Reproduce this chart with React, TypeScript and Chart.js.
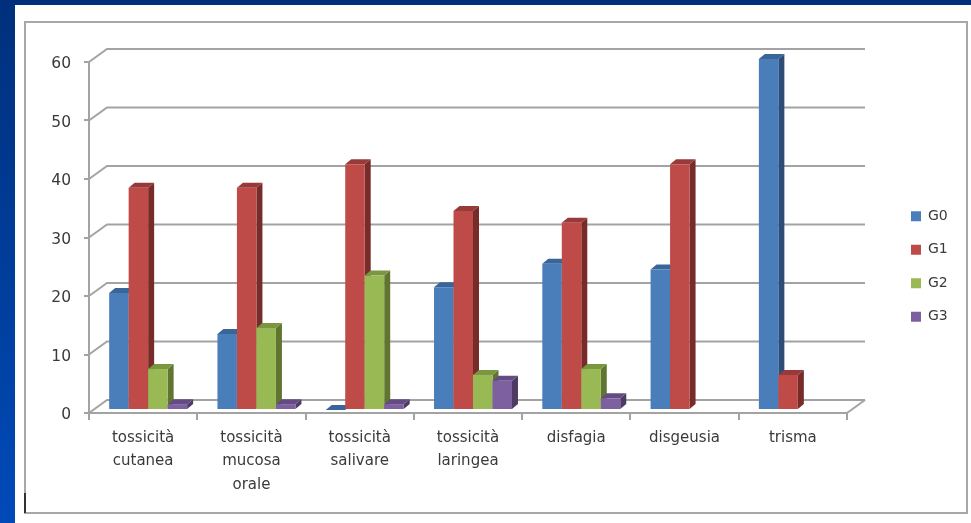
import React, { useEffect, useRef } from "react";
import { Chart, registerables } from "chart.js";

Chart.register(...registerables);

const categories = [
  ["tossicità", "cutanea"],
  ["tossicità", "mucosa", "orale"],
  ["tossicità", "salivare"],
  ["tossicità", "laringea"],
  "disfagia",
  "disgeusia",
  "trisma",
];
const g0 = [20, 13, 0, 21, 25, 24, 60];
const g1 = [38, 38, 42, 34, 32, 42, 6];
const g2 = [7, 14, 23, 6, 7, null, null];
const g3 = [1, 1, 1, 5, 2, null, null];
const yTicks = { min: 0, max: 60, stepSize: 10 };

const faces = [
  { front: "#4a7ebb", side: "#2c4d75", top: "#3a6599" },
  { front: "#be4b48", side: "#772c2a", top: "#98393a" },
  { front: "#98b954", side: "#5f7530", top: "#7a9640" },
  { front: "#7d60a0", side: "#4d3b62", top: "#644c82" },
];

const AXIS = "#a3a3a3";
const TEXT = "#3a3a3a";
const FONT = "DejaVu Sans";
const WALL_DX = 18;
const WALL_DY = -13;
const BAR_DX = 6;
const BAR_DY = -5;
const BAR_SHIFT_X = 5;
const BAR_SHIFT_Y = -3;

const poly = (ctx: CanvasRenderingContext2D, pts: number[][], fill: string) => {
  ctx.fillStyle = fill;
  ctx.beginPath();
  pts.forEach(([x, y], i) => (i ? ctx.lineTo(x, y) : ctx.moveTo(x, y)));
  ctx.closePath();
  ctx.fill();
};

// Slide frame, blue theme edges, the perspective back wall and the 3D columns.
const stage = {
  id: "stage",
  beforeDraw(chart: any) {
    const { ctx, width, height } = chart;
    ctx.save();
    ctx.fillStyle = "#ffffff";
    ctx.fillRect(0, 0, width, height);
    const edge = ctx.createLinearGradient(0, 0, 0, height);
    edge.addColorStop(0, "#00307c");
    edge.addColorStop(1, "#004ab8");
    ctx.fillStyle = edge;
    ctx.fillRect(0, 0, 15, height);
    ctx.fillStyle = "#00307c";
    ctx.fillRect(0, 0, width, 5);
    ctx.strokeStyle = "#a8a8a8";
    ctx.lineWidth = 2;
    ctx.strokeRect(25, 22, 942, 491);
    ctx.strokeStyle = "#333333";
    ctx.beginPath();
    ctx.moveTo(25, 493);
    ctx.lineTo(25, 513);
    ctx.stroke();
    ctx.restore();
  },
  beforeDatasetsDraw(chart: any) {
    const { ctx, chartArea, scales } = chart;
    ctx.save();
    ctx.strokeStyle = AXIS;
    ctx.lineWidth = 2;
    scales.y.ticks.forEach((t: any) => {
      const y = scales.y.getPixelForValue(t.value);
      ctx.beginPath();
      ctx.moveTo(chartArea.left, y);
      ctx.lineTo(chartArea.left + WALL_DX, y + WALL_DY);
      ctx.lineTo(chartArea.right + WALL_DX, y + WALL_DY);
      ctx.stroke();
    });
    const y0 = scales.y.getPixelForValue(0);
    ctx.beginPath();
    ctx.moveTo(chartArea.right, y0);
    ctx.lineTo(chartArea.right + WALL_DX, y0 + WALL_DY);
    ctx.stroke();
    ctx.restore();

    // Left to right, so that each column's front covers its neighbour's side.
    ctx.save();
    ctx.translate(BAR_SHIFT_X, BAR_SHIFT_Y);
    chart.data.datasets.forEach((ds: any, index: number) => {
      const meta = chart.getDatasetMeta(index);
      const face = faces[index];
      meta.data.forEach((bar: any, i: number) => {
        if (ds.data[i] == null) return;
        const { x, y, base, width } = bar.getProps(["x", "y", "base", "width"], true);
        const l = x - width / 2;
        const r = x + width / 2;
        poly(ctx, [[r, y], [r + BAR_DX, y + BAR_DY], [r + BAR_DX, base + BAR_DY], [r, base]], face.side);
        poly(ctx, [[l, y], [l + BAR_DX, y + BAR_DY], [r + BAR_DX, y + BAR_DY], [r, y]], face.top);
      });
      meta.controller.draw();
    });
    ctx.restore();
  },
  // The columns are already painted in their own order above.
  beforeDatasetDraw() {
    return false;
  },
  afterLayout(chart: any) {
    // Keep the legend in its own column, clear of the plot.
    const legend = chart.legend;
    const dx = 891.5 - legend.left;
    const dy = -26;
    legend.left += dx;
    legend.right += dx;
    legend.top += dy;
    legend.bottom += dy;
    // Digits sit a little high on the "middle" baseline; centre them on the ticks.
    chart.scales.y.getLabelItems().forEach((item: any) => {
      item.textOffset += 2;
    });
  },
};

export default function App() {
  const ref = useRef<HTMLCanvasElement>(null);
  useEffect(() => {
    const series = [g0, g1, g2, g3];
    const chart = new Chart(ref.current!, {
      type: "bar",
      data: {
        labels: categories as any,
        datasets: series.map((data, i) => ({
          label: `G${i}`,
          data,
          backgroundColor: faces[i].front,
          borderWidth: 0,
          categoryPercentage: 0.72,
          barPercentage: 1,
        })),
      },
      options: {
        responsive: false,
        animation: false,
        devicePixelRatio: 1,
        layout: { padding: { left: 0, top: 62, right: 57.75, bottom: 0 } },
        plugins: {
          title: { display: false },
          tooltip: { enabled: false },
          legend: {
            position: "right",
            labels: {
              boxWidth: 10,
              boxHeight: 10,
              padding: 19.5,
              color: TEXT,
              font: { family: FONT, size: 14 },
            },
          },
        },
        scales: {
          x: {
            afterFit: (s: any) => { s.height = 110; },
            grid: { drawOnChartArea: false, color: AXIS, lineWidth: 2, tickLength: 7, offset: true },
            border: { color: AXIS, width: 2 },
            ticks: {
              color: TEXT,
              maxRotation: 0,
              padding: 6,
              font: { family: FONT, size: 15, lineHeight: 1.57 },
            },
          },
          y: {
            ...yTicks,
            afterFit: (s: any) => { s.width = 89; },
            grid: { drawOnChartArea: false, color: AXIS, lineWidth: 2, tickLength: 5 },
            border: { color: AXIS, width: 2 },
            ticks: {
              stepSize: yTicks.stepSize,
              color: TEXT,
              padding: 13,
              font: { family: FONT, size: 15.5 },
            },
          },
        },
      },
      plugins: [stage],
    } as any);
    return () => chart.destroy();
  }, []);
  return (
    <div style={{ position: "fixed", left: 0, top: 0, width: 971, height: 523 }}>
      <canvas ref={ref} width={971} height={523} style={{ display: "block" }} />
    </div>
  );
}
